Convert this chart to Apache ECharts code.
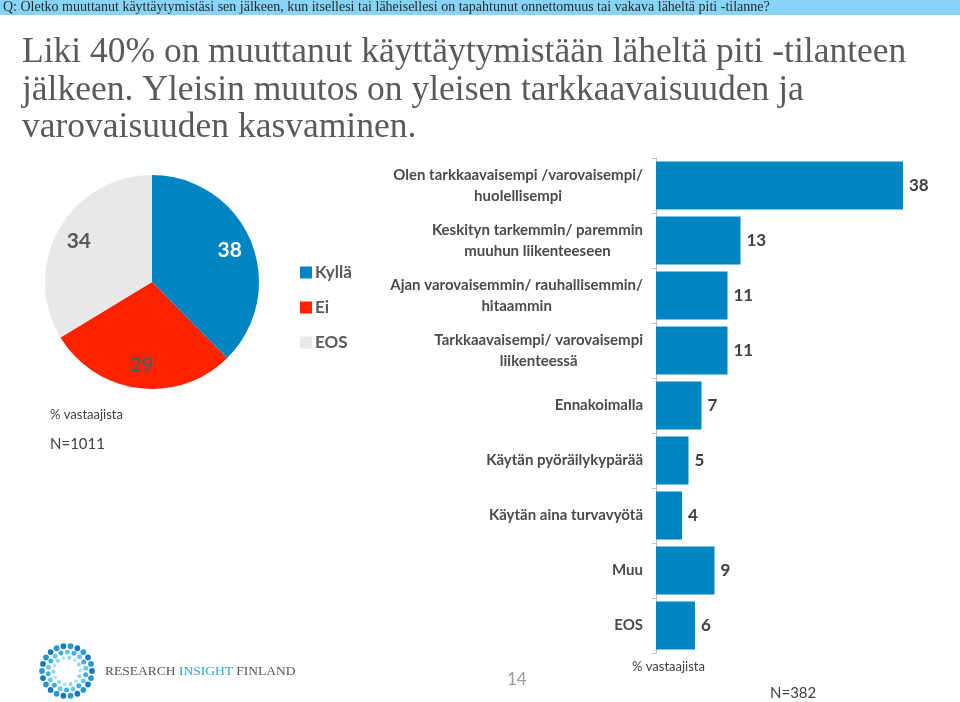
<!DOCTYPE html>
<html><head><meta charset="utf-8">
<script src="https://cdn.jsdelivr.net/npm/echarts@6/dist/echarts.min.js"></script>
<style>html,body{margin:0;padding:0;background:#fff}#c{width:960px;height:702px}</style>
</head><body><div id="c"></div>
<script>
const headerText = "Q: Oletko muuttanut käyttäytymistäsi sen jälkeen, kun itsellesi tai läheisellesi on tapahtunut onnettomuus tai vakava läheltä piti -tilanne?";
const titleText = "Liki 40% on muuttanut käyttäytymistään läheltä piti -tilanteen\njälkeen. Yleisin muutos on yleisen tarkkaavaisuuden ja\nvarovaisuuden kasvaminen.";
const pieCategories = ["Kyllä", "Ei", "EOS"];
const pieValues = [38, 29, 34];
const pieColors = ["#0085C3", "#FF2200", "#E8E8E8"];
const pieLabelColors = ["#ffffff", "#595959", "#595959"];
const barCategories = [
  "Olen tarkkaavaisempi /varovaisempi/\nhuolellisempi",
  "Keskityn tarkemmin/ paremmin\nmuuhun liikenteeseen",
  "Ajan varovaisemmin/ rauhallisemmin/\nhitaammin",
  "Tarkkaavaisempi/ varovaisempi\nliikenteessä",
  "Ennakoimalla",
  "Käytän pyöräilykypärää",
  "Käytän aina turvavyötä",
  "Muu",
  "EOS"
];
const barValues = [38, 13, 11, 11, 7, 5, 4, 9, 6];

const FONT = "Lato";
const chart = echarts.init(document.getElementById('c'));

// decorative logo dots
const logoDots = [];
const rings = [
  {r: 25, n: 22, s: 2.9, c: ['#1479BF', '#2A97D2']},
  {r: 19, n: 18, s: 2.5, c: ['#3FAEE0', '#6CC5EA']},
  {r: 13.5, n: 14, s: 2.0, c: ['#8AD3F0', '#B5E3F5']}
];
rings.forEach((ring, ri) => {
  for (let i = 0; i < ring.n; i++) {
    const a = (i / ring.n) * Math.PI * 2 + ri * 0.2;
    logoDots.push({
      type: 'circle',
      shape: {cx: 67 + ring.r * Math.cos(a), cy: 671 + ring.r * Math.sin(a), r: ring.s},
      style: {fill: ring.c[i % 2]}
    });
  }
});

const option = {
  backgroundColor: '#ffffff',
  animation: false,
  title: [{
    text: titleText,
    left: 17, top: 29,
    textStyle: {fontFamily: 'Liberation Serif', fontSize: 35.5, fontWeight: 'normal', color: '#5a5a5a', lineHeight: 37.5}
  }],
  graphic: [
    {type: 'rect', shape: {x: 0, y: 0, width: 960, height: 15}, style: {fill: '#87D4F7'}},
    {type: 'text', left: 3, top: 0, style: {text: headerText, font: '14px "Liberation Serif"', fill: '#2a2a2a'}},
    {type: 'text', left: 50, top: 408, style: {text: '% vastaajista', font: '13px ' + FONT, fill: '#404040'}},
    {type: 'text', left: 50, top: 437, style: {text: 'N=1011', font: '15px ' + FONT, fill: '#404040'}},
    {type: 'text', left: 632, top: 660, style: {text: '% vastaajista', font: '13px ' + FONT, fill: '#404040'}},
    {type: 'text', left: 770, top: 686, style: {text: 'N=382', font: '15px ' + FONT, fill: '#404040'}},
    {type: 'text', left: 507, top: 671, style: {text: '14', font: '17px ' + FONT, fill: '#9a9a9a'}},
    {type: 'text', left: 105, top: 664, style: {
      text: '{a|RESEARCH }{b|INSIGHT}{a| FINLAND}',
      rich: {
        a: {fontFamily: 'Liberation Serif', fontSize: 13.5, fill: '#555'},
        b: {fontFamily: 'Liberation Serif', fontSize: 13.5, fill: '#2AA6D2'}
      }
    }},
    {type: 'group', children: logoDots}
  ],
  legend: {
    orient: 'vertical', left: 295, top: 259,
    icon: 'rect', itemWidth: 12, itemHeight: 12, itemGap: 18,
    data: pieCategories,
    selectedMode: false,
    textStyle: {fontFamily: FONT, fontSize: 17, fontWeight: 'bold', color: '#595959', padding: [0, 0, 0, -2]}
  },
  grid: {left: 656, top: 158, width: 260, height: 495, containLabel: false},
  xAxis: {type: 'value', min: 0, max: 40, show: false},
  yAxis: {
    type: 'category', data: barCategories, inverse: true,
    axisLine: {show: true, lineStyle: {color: '#BFBFBF', width: 1}},
    axisTick: {show: true, length: 4, lineStyle: {color: '#BFBFBF'}},
    axisLabel: {
      margin: 13,
      formatter: v => v.split('\n').map(l => '{c|' + l + '}').join('\n'),
      rich: {c: {align: 'center', fontFamily: FONT, fontSize: 15, fontWeight: 'bold', color: '#4a4a4a', lineHeight: 21}}
    }
  },
  series: [
    {
      type: 'pie', center: [152, 282], radius: 107, startAngle: 90, clockwise: true,
      silent: true,
      data: pieCategories.map((n, i) => ({name: n, value: pieValues[i], itemStyle: {color: pieColors[i]}})),
      label: {show: false}, labelLine: {show: false}
    },
    {
      type: 'pie', center: [152, 282], radius: [55, 107], startAngle: 90, clockwise: true,
      silent: true,
      data: pieCategories.map((n, i) => ({name: n, value: pieValues[i], itemStyle: {color: 'transparent'},
        label: {color: pieLabelColors[i]}})),
      label: {show: true, position: 'inside', formatter: '{c}', fontFamily: FONT, fontSize: 21, fontWeight: 'bold'},
      labelLine: {show: false}
    },
    {
      type: 'bar', data: barValues, barWidth: 48,
      itemStyle: {color: '#0085C3'},
      label: {show: true, position: 'right', distance: 6, fontFamily: FONT, fontSize: 17, fontWeight: 'bold', color: '#404040'},
      silent: true
    }
  ]
};
chart.setOption(option);
</script>
</body></html>
